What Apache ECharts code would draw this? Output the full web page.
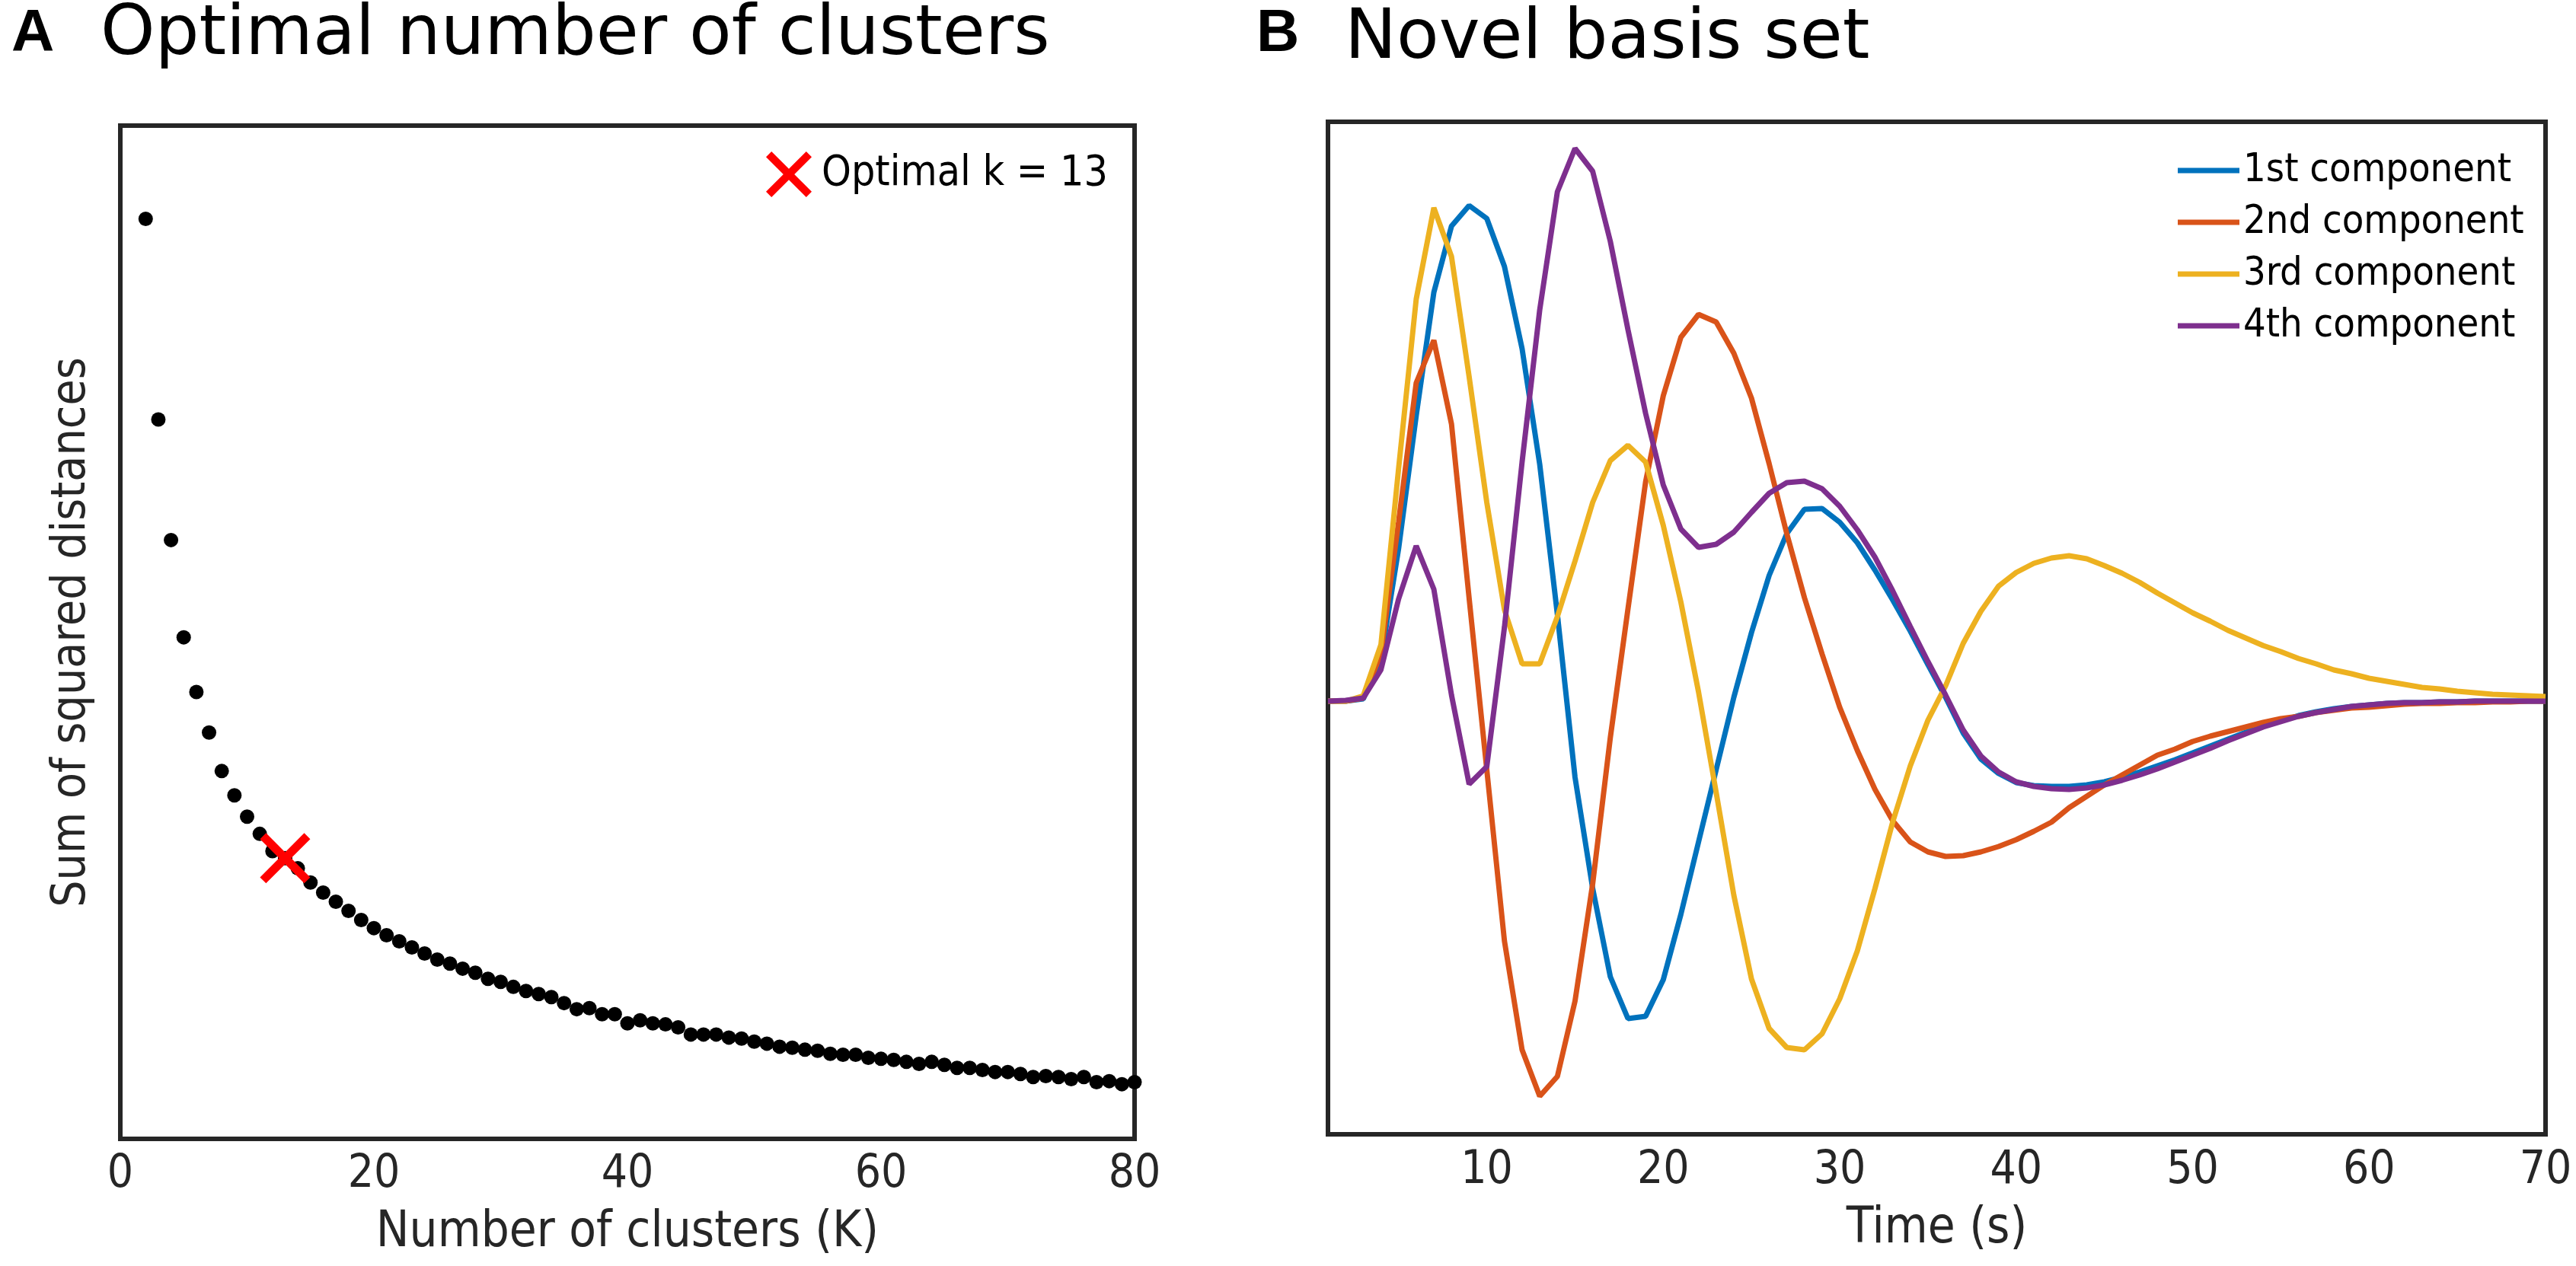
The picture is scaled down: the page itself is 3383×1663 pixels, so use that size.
<!DOCTYPE html>
<html>
<head>
<meta charset="utf-8">
<script src="https://cdn.jsdelivr.net/npm/echarts@6/dist/echarts.min.js"></script>
<style>
html,body{margin:0;padding:0;background:#fff;}
#chart{width:3383px;height:1663px;}
</style>
</head>
<body>
<div id="chart"></div>
<script>
// ---------- Panel A: elbow curve ----------
const clusterK = [2,3,4,5,6,7,8,9,10,11,12,13,14,15,16,17,18,19,20,21,22,23,24,25,26,27,28,29,30,31,32,33,34,35,36,37,38,39,40,41,42,43,44,45,46,47,48,49,50,51,52,53,54,55,56,57,58,59,60,61,62,63,64,65,66,67,68,69,70,71,72,73,74,75,76,77,78,79,80];
const sumSquaredDist = [90.8,71.0,59.1,49.5,44.1,40.1,36.3,33.9,31.8,30.1,28.4,27.7,26.7,25.3,24.3,23.4,22.5,21.6,20.8,20.1,19.5,18.9,18.3,17.7,17.3,16.8,16.4,15.8,15.5,15.0,14.6,14.3,14.0,13.4,12.8,12.9,12.3,12.3,11.4,11.7,11.4,11.3,11.0,10.3,10.3,10.3,10.0,9.9,9.6,9.4,9.1,9.0,8.8,8.7,8.4,8.3,8.3,8.0,7.9,7.8,7.6,7.4,7.6,7.3,7.0,7.0,6.8,6.6,6.6,6.4,6.1,6.2,6.1,5.9,6.1,5.6,5.7,5.4,5.6];
const optimalK = 13;
const clusterTicks = [0,20,40,60,80];

// ---------- Panel B: basis set ----------
const timeS = [1,2,3,4,5,6,7,8,9,10,11,12,13,14,15,16,17,18,19,20,21,22,23,24,25,26,27,28,29,30,31,32,33,34,35,36,37,38,39,40,41,42,43,44,45,46,47,48,49,50,51,52,53,54,55,56,57,58,59,60,61,62,63,64,65,66,67,68,69,70];
const comp1 = [0.00,0.00,0.03,0.55,2.00,3.75,5.37,6.24,6.51,6.34,5.71,4.63,3.11,1.14,-1.00,-2.46,-3.62,-4.17,-4.14,-3.66,-2.80,-1.85,-0.90,0.05,0.90,1.65,2.20,2.52,2.53,2.35,2.08,1.72,1.33,0.92,0.48,0.05,-0.42,-0.76,-0.95,-1.07,-1.11,-1.12,-1.12,-1.10,-1.06,-1.00,-0.93,-0.85,-0.77,-0.68,-0.59,-0.50,-0.41,-0.33,-0.26,-0.19,-0.14,-0.10,-0.07,-0.05,-0.03,-0.02,-0.02,-0.01,-0.01,0.00,0.00,0.00,0.00,0.00];
const comp2 = [0.00,0.00,0.04,0.62,2.35,4.18,4.74,3.64,1.35,-0.90,-3.15,-4.58,-5.19,-4.93,-3.94,-2.40,-0.48,1.21,2.88,4.01,4.78,5.08,4.98,4.57,3.98,3.12,2.20,1.36,0.62,-0.08,-0.65,-1.16,-1.57,-1.85,-1.98,-2.04,-2.03,-1.98,-1.91,-1.82,-1.71,-1.59,-1.40,-1.25,-1.10,-0.97,-0.84,-0.71,-0.63,-0.53,-0.46,-0.40,-0.34,-0.28,-0.23,-0.20,-0.15,-0.12,-0.09,-0.08,-0.06,-0.04,-0.03,-0.03,-0.02,-0.02,-0.01,-0.01,0.00,0.00];
const comp3 = [0.00,0.00,0.07,0.74,3.05,5.28,6.48,5.84,4.26,2.61,1.20,0.49,0.49,1.11,1.84,2.61,3.16,3.36,3.14,2.31,1.30,0.12,-1.20,-2.55,-3.65,-4.30,-4.55,-4.58,-4.37,-3.91,-3.28,-2.46,-1.59,-0.85,-0.25,0.20,0.76,1.18,1.51,1.69,1.81,1.88,1.91,1.87,1.78,1.68,1.56,1.42,1.29,1.16,1.05,0.93,0.83,0.73,0.65,0.56,0.49,0.41,0.36,0.30,0.26,0.22,0.18,0.16,0.13,0.11,0.09,0.08,0.07,0.06];
const comp4 = [0.00,0.01,0.04,0.41,1.34,2.04,1.47,0.08,-1.09,-0.86,0.97,3.14,5.14,6.69,7.26,6.96,6.04,4.88,3.78,2.84,2.26,2.02,2.06,2.22,2.48,2.73,2.87,2.89,2.79,2.56,2.25,1.89,1.45,0.98,0.52,0.08,-0.38,-0.72,-0.93,-1.06,-1.12,-1.15,-1.16,-1.14,-1.10,-1.04,-0.97,-0.89,-0.80,-0.71,-0.62,-0.52,-0.43,-0.34,-0.27,-0.20,-0.15,-0.11,-0.07,-0.05,-0.03,-0.02,-0.02,-0.01,-0.01,0.00,0.00,0.00,0.00,0.00];
const componentNames = ['1st component','2nd component','3rd component','4th component'];
const componentColors = ['#0072BD','#D95319','#EDB120','#7E2F8E'];
const timeTicks = [10,20,30,40,50,60,70];

const condensed = "'DejaVu Sans Condensed','DejaVu Sans',sans-serif";
const regular = "'DejaVu Sans',sans-serif";
const boldLabel = "'Liberation Sans',Arial,sans-serif";
const ink = '#262626';
const xMarker = 'path://M0,1.2L1.2,0L5,3.8L8.8,0L10,1.2L6.2,5L10,8.8L8.8,10L5,6.2L1.2,10L0,8.8L3.8,5Z';

const elbowData = clusterK.map((k,i)=>[k,sumSquaredDist[i]]);
const optIdx = clusterK.indexOf(optimalK);
const compData = [comp1,comp2,comp3,comp4];

const chart = echarts.init(document.getElementById('chart'), null, {renderer:'canvas'});
chart.setOption({
  backgroundColor:'#ffffff',
  animation:false,
  title:[
    {text:'A', left:10, top:1, textStyle:{fontFamily:boldLabel, fontWeight:'bold', fontSize:78, lineHeight:78, color:'#000'}},
    {text:'Optimal number of clusters', left:127, top:-3, textStyle:{fontFamily:regular, fontWeight:'normal', fontSize:91, lineHeight:91, color:'#000'}},
    {text:'B', left:1645, top:1, textStyle:{fontFamily:boldLabel, fontWeight:'bold', fontSize:78, lineHeight:78, color:'#000'}},
    {text:'Novel basis set', left:1761, top:2, textStyle:{fontFamily:regular, fontWeight:'normal', fontSize:91, lineHeight:91, color:'#000'}}
  ],
  legend:[
    {
      data:[{name:'Optimal k = ' + optimalK, icon:xMarker, itemStyle:{color:'#ff0000', opacity:1}}],
      left:1001, top:194, itemWidth:60, itemHeight:60,
      selectedMode:false,
      textStyle:{fontFamily:condensed, fontSize:55, color:'#000', padding:[0,0,0,8]}
    },
    {
      data:componentNames.map(n=>({name:n, icon:'rect'})),
      orient:'vertical', left:2855, top:193, itemWidth:81, itemHeight:7, itemGap:16,
      selectedMode:false,
      textStyle:{fontFamily:condensed, fontSize:52, color:'#000'}
    }
  ],
  grid:[
    {left:158, top:165, width:1332, height:1331, show:true, borderColor:ink, borderWidth:6, backgroundColor:'rgba(0,0,0,0)'},
    {left:1744, top:160, width:1599, height:1330, show:true, borderColor:ink, borderWidth:6, backgroundColor:'rgba(0,0,0,0)'}
  ],
  xAxis:[
    {gridIndex:0, type:'value', min:0, max:80, interval:20,
     name:'Number of clusters (K)', nameLocation:'middle', nameGap:92,
     nameTextStyle:{fontFamily:condensed, fontSize:65, color:ink},
     axisLine:{show:false}, axisTick:{show:false}, splitLine:{show:false},
     axisLabel:{fontFamily:condensed, fontSize:60, color:ink, margin:17, customValues:clusterTicks}},
    {gridIndex:1, type:'value', min:1, max:70,
     name:'Time (s)', nameLocation:'middle', nameGap:93,
     nameTextStyle:{fontFamily:condensed, fontSize:65, color:ink},
     axisLine:{show:false}, axisTick:{show:false}, splitLine:{show:false},
     axisLabel:{fontFamily:condensed, fontSize:60, color:ink, margin:18, customValues:timeTicks}}
  ],
  yAxis:[
    {gridIndex:0, type:'value', min:0, max:100,
     name:'Sum of squared distances', nameLocation:'middle', nameGap:32, nameRotate:90,
     nameTextStyle:{fontFamily:condensed, fontSize:62, color:ink},
     axisLine:{show:false}, axisTick:{show:false}, splitLine:{show:false}, axisLabel:{show:false}},
    {gridIndex:1, type:'value', min:-5.69, max:7.61,
     axisLine:{show:false}, axisTick:{show:false}, splitLine:{show:false}, axisLabel:{show:false}}
  ],
  series:[
    {type:'scatter', name:'Sum of squared distances', xAxisIndex:0, yAxisIndex:0,
     data:elbowData, symbol:'circle', symbolSize:19, itemStyle:{color:'#000', opacity:1}, z:3},
    {type:'scatter', name:'Optimal k = ' + optimalK, xAxisIndex:0, yAxisIndex:0,
     data:[[optimalK, sumSquaredDist[optIdx]]], symbol:xMarker, symbolSize:66,
     itemStyle:{color:'#ff0000', opacity:1}, z:5},
    ...componentNames.map((n,i)=>({
      type:'line', name:n, xAxisIndex:1, yAxisIndex:1,
      data:timeS.map((t,j)=>[t, compData[i][j]]),
      showSymbol:false, symbol:'none', color:componentColors[i],
      lineStyle:{width:7, color:componentColors[i]}, z:3+i
    }))
  ]
});
</script>
</body>
</html>
